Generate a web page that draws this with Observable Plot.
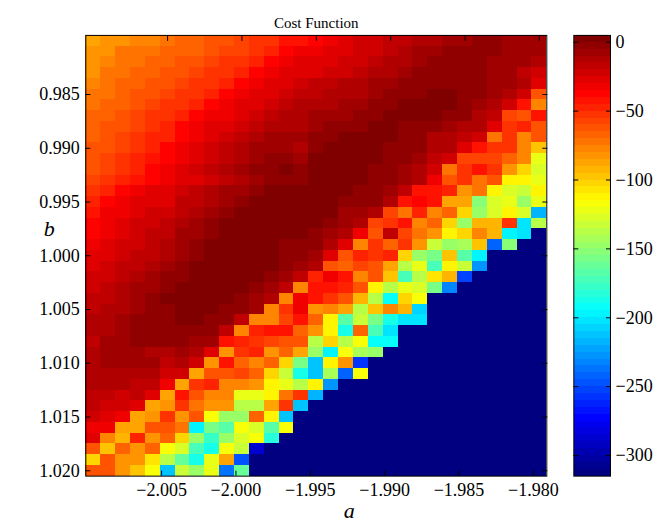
<!DOCTYPE html>
<html>
<head>
<meta charset="utf-8">
<script src="https://cdn.jsdelivr.net/npm/d3@7"></script>
<script src="https://cdn.jsdelivr.net/npm/@observablehq/plot@0.6"></script>
<style>
  html, body { margin: 0; padding: 0; background: #fff; }
  #chart { position: relative; width: 667px; height: 526px; overflow: hidden; }
  #chart svg {
    position: absolute; top: 0;
    font-family: "Liberation Serif", "Times New Roman", Times, serif;
    font-size: 18px;
    background: none;
    overflow: visible;
    color: #000;
  }
  #chart svg.heat { left: 0; }
  #chart svg.bar { left: 560px; }
</style>
</head>
<body>
<div id="chart"></div>
<script>
// Parameter grid: a along x, b along y
const aValues = [-2.010, -2.009, -2.008, -2.007, -2.006, -2.005, -2.004, -2.003, -2.002, -2.001,
  -2.000, -1.999, -1.998, -1.997, -1.996, -1.995, -1.994, -1.993, -1.992, -1.991,
  -1.990, -1.989, -1.988, -1.987, -1.986, -1.985, -1.984, -1.983, -1.982, -1.981, -1.980];
const bValues = [0.980, 0.981, 0.982, 0.983, 0.984, 0.985, 0.986, 0.987, 0.988, 0.989,
  0.990, 0.991, 0.992, 0.993, 0.994, 0.995, 0.996, 0.997, 0.998, 0.999,
  1.000, 1.001, 1.002, 1.003, 1.004, 1.005, 1.006, 1.007, 1.008, 1.009,
  1.010, 1.011, 1.012, 1.013, 1.014, 1.015, 1.016, 1.017, 1.018, 1.019, 1.020];

// Cost value for each (b row, a column)
const costRows = [
  [-86,-81,-81,-78,-78,-72,-70,-70,-65,-62,-60,-55,-51,-45,-45,-38,-33,-30,-25,-24,-20,-17,-15,-12,-10,-7,-5,-5,-7,-10,-10],
  [-83,-81,-75,-75,-75,-70,-70,-67,-62,-60,-56,-51,-46,-40,-35,-35,-30,-30,-25,-21,-17,-15,-10,-10,-5,-5,-4,-4,-6,-10,-10],
  [-81,-78,-75,-72,-70,-67,-65,-62,-56,-53,-51,-46,-40,-35,-30,-30,-30,-25,-21,-19,-15,-12,-7,-5,-5,-4,-4,-8,-10,-10,-15],
  [-81,-75,-75,-70,-67,-65,-62,-56,-55,-51,-46,-40,-35,-30,-30,-26,-23,-21,-19,-15,-12,-7,-5,-3,-3,-3,-5,-7,-10,-17,-24],
  [-78,-72,-70,-67,-65,-62,-56,-55,-51,-46,-40,-35,-30,-30,-24,-19,-19,-15,-15,-10,-7,-5,-3,-3,-3,-3,-5,-10,-10,-15,-30],
  [-75,-72,-70,-65,-62,-56,-55,-51,-46,-40,-35,-30,-30,-24,-19,-19,-15,-15,-12,-10,-5,-3,-3,0,0,-3,-5,-10,-15,-24,-65],
  [-72,-70,-67,-62,-56,-55,-51,-46,-40,-35,-30,-30,-24,-19,-15,-15,-15,-10,-10,-5,-3,0,0,0,0,-5,-10,-15,-24,-45,-78],
  [-70,-67,-65,-60,-55,-51,-46,-40,-35,-35,-30,-24,-19,-15,-12,-10,-10,-10,-5,-3,0,0,0,0,-5,-5,-15,-19,-60,-65,-45],
  [-70,-65,-62,-56,-51,-46,-40,-35,-30,-30,-24,-19,-15,-12,-14,-7,-5,-5,-5,0,0,-5,-5,-5,-10,-15,-15,-30,-55,-50,-65],
  [-67,-65,-60,-55,-50,-46,-40,-35,-30,-24,-19,-15,-10,-10,-10,-5,-5,0,0,0,0,-5,-5,-12,-12,-19,-24,-72,-55,-78,-65],
  [-65,-62,-56,-51,-46,-40,-35,-30,-24,-19,-15,-10,-10,-8,-11,-5,0,0,0,0,-5,-5,-5,-15,-15,-30,-45,-55,-55,-78,-100],
  [-65,-60,-55,-50,-45,-40,-35,-30,-24,-19,-15,-10,-5,-5,-10,0,0,0,0,0,-5,-5,-10,-19,-24,-60,-60,-60,-70,-78,-125],
  [-62,-56,-51,-46,-40,-35,-30,-24,-19,-15,-10,-5,-5,0,-5,0,0,0,0,-5,-5,-10,-15,-24,-72,-55,-42,-55,-85,-102,-127],
  [-60,-55,-50,-45,-38,-35,-30,-27,-24,-19,-15,-10,-5,-5,-5,0,0,0,0,-5,-5,-10,-15,-35,-65,-55,-72,-65,-112,-112,-125],
  [-55,-46,-40,-35,-30,-28,-24,-19,-15,-10,-6,-3,0,0,0,5,0,0,-5,-5,-10,-19,-45,-45,-50,-81,-72,-112,-130,-132,-112],
  [-50,-40,-35,-30,-30,-28,-19,-19,-12,-10,-5,0,0,5,5,5,0,-5,-5,-5,-15,-45,-40,-45,-87,-87,-155,-130,-125,-150,-121],
  [-45,-35,-35,-30,-24,-24,-19,-15,-10,-5,0,0,5,5,5,0,0,-10,-10,-15,-60,-72,-50,-78,-68,-102,-147,-130,-115,-127,-220],
  [-40,-35,-30,-24,-24,-19,-15,-10,-5,0,0,5,5,5,0,0,-5,-10,-15,-60,-55,-45,-78,-70,-102,-147,-95,-92,-55,-203,-140],
  [-40,-35,-30,-24,-19,-19,-10,-10,-5,0,5,5,5,0,0,-5,-10,-15,-35,-65,-20,-60,-72,-81,-112,-102,-78,-95,-198,-203,-315],
  [-35,-30,-24,-24,-19,-15,-10,-5,0,0,5,5,5,-5,-5,-5,-15,-30,-78,-55,-68,-55,-81,-132,-147,-145,-100,-245,-155,-315,-315],
  [-30,-30,-24,-19,-19,-15,-10,-5,0,5,5,5,0,-5,-5,-10,-30,-65,-50,-55,-50,-102,-150,-160,-97,-167,-198,-315,-315,-315,-315],
  [-30,-24,-19,-19,-15,-10,-5,0,5,5,5,0,0,-5,-10,-15,-65,-70,-60,-65,-87,-140,-121,-175,-115,-132,-230,-315,-315,-315,-315],
  [-24,-24,-19,-15,-10,-5,-5,0,5,5,0,0,-5,-10,-19,-50,-35,-45,-78,-65,-97,-175,-140,-107,-95,-255,-315,-315,-315,-315,-315],
  [-24,-19,-15,-10,-10,-5,0,5,5,0,0,-5,-10,-19,-78,-42,-45,-50,-65,-115,-140,-125,-127,-160,-235,-315,-315,-315,-315,-315,-315],
  [-19,-19,-15,-10,-5,0,0,0,0,0,-5,-10,-15,-78,-35,-45,-55,-65,-92,-140,-195,-102,-120,-315,-315,-315,-315,-315,-315,-315,-315],
  [-19,-15,-15,-10,-5,-5,0,0,0,-5,-5,-10,-78,-55,-35,-81,-78,-87,-140,-97,-78,-92,-210,-315,-315,-315,-315,-315,-315,-315,-315],
  [-15,-15,-10,-5,-5,-5,0,0,-5,-5,-19,-78,-78,-60,-45,-70,-112,-167,-132,-158,-188,-203,-203,-315,-315,-315,-315,-315,-315,-315,-315],
  [-15,-12,-8,-5,-3,-3,-3,-5,-5,-19,-78,-50,-42,-45,-70,-85,-112,-188,-70,-175,-203,-315,-315,-315,-315,-315,-315,-315,-315,-315,-315],
  [-17,-10,-10,-5,-5,-5,-5,-7,-10,-45,-50,-55,-60,-65,-65,-140,-102,-140,-120,-195,-195,-315,-315,-315,-315,-315,-315,-315,-315,-315,-315],
  [-15,-10,-10,-7,-12,-12,-10,-15,-30,-85,-55,-50,-81,-70,-90,-150,-200,-120,-145,-147,-315,-315,-315,-315,-315,-315,-315,-315,-315,-315,-315],
  [-15,-10,-10,-10,-10,-19,-12,-24,-85,-45,-70,-78,-70,-102,-160,-212,-115,-81,-260,-315,-315,-315,-315,-315,-315,-315,-315,-315,-315,-315,-315],
  [-15,-15,-12,-12,-12,-24,-24,-88,-65,-65,-60,-70,-102,-132,-190,-212,-145,-245,-120,-315,-315,-315,-315,-315,-315,-315,-315,-315,-315,-315,-315],
  [-15,-15,-15,-20,-20,-35,-90,-55,-50,-78,-78,-85,-115,-125,-140,-115,-230,-315,-315,-315,-315,-315,-315,-315,-315,-315,-315,-315,-315,-315,-315],
  [-20,-20,-24,-20,-30,-90,-45,-65,-78,-78,-125,-125,-115,-75,-55,-220,-315,-315,-315,-315,-315,-315,-315,-315,-315,-315,-315,-315,-315,-315,-315],
  [-19,-24,-24,-30,-90,-81,-55,-75,-81,-81,-136,-140,-90,-55,-215,-315,-315,-315,-315,-315,-315,-315,-315,-315,-315,-315,-315,-315,-315,-315,-315],
  [-24,-30,-35,-90,-81,-55,-81,-65,-120,-150,-150,-70,-115,-212,-315,-315,-315,-315,-315,-315,-315,-315,-315,-315,-315,-315,-315,-315,-315,-315,-315],
  [-35,-35,-90,-90,-65,-65,-75,-200,-160,-170,-120,-130,-170,-120,-315,-315,-315,-315,-315,-315,-315,-315,-315,-315,-315,-315,-315,-315,-315,-315,-315],
  [-30,-78,-95,-50,-81,-70,-102,-150,-180,-147,-130,-120,-185,-315,-315,-315,-315,-315,-315,-315,-315,-315,-315,-315,-315,-315,-315,-315,-315,-315,-315],
  [-65,-100,-70,-85,-70,-120,-130,-175,-190,-120,-135,-290,-315,-315,-315,-315,-315,-315,-315,-315,-315,-315,-315,-315,-315,-315,-315,-315,-315,-315,-315],
  [-105,-65,-85,-85,-107,-140,-165,-190,-125,-90,-250,-315,-315,-315,-315,-315,-315,-315,-315,-315,-315,-315,-315,-315,-315,-315,-315,-315,-315,-315,-315],
  [-65,-65,-85,-100,-120,-212,-135,-147,-125,-240,-165,-315,-315,-315,-315,-315,-315,-315,-315,-315,-315,-315,-315,-315,-315,-315,-315,-315,-315,-315,-315]
];

// Tick values
const xTicks = [-2.005, -2.000, -1.995, -1.990, -1.985, -1.980];
const yTicks = [0.985, 0.990, 0.995, 1.000, 1.005, 1.010, 1.015, 1.020];
const colorTicks = [0, -50, -100, -150, -200, -250, -300];

// 64-level jet colormap
const LEVELS = 64;
function jet(t) {
  const c = v => Math.max(0, Math.min(1, v));
  const r = c(Math.min(4 * t - 1.5, -4 * t + 4.5));
  const g = c(Math.min(4 * t - 0.5, -4 * t + 3.5));
  const b = c(Math.min(4 * t + 0.5, -4 * t + 2.5));
  return `rgb(${Math.round(r * 255)},${Math.round(g * 255)},${Math.round(b * 255)})`;
}
const jet64 = t => jet(Math.min(LEVELS - 1, Math.max(0, Math.floor(t * LEVELS))) / (LEVELS - 1));

const cells = bValues.flatMap((b, j) => aValues.map((a, i) => ({a, b, cost: costRows[j][i]})));
const costExtent = d3.extent(cells, d => d.cost);
const colorScale = {type: "linear", domain: costExtent, interpolate: jet64};

const ha = (aValues[1] - aValues[0]) / 2;
const hb = (bValues[1] - bValues[0]) / 2;

const W = 667, H = 526;
const mTop = 34.9, mBottom = 50.35;

const heat = Plot.plot({
  width: 560, height: H,
  marginLeft: 85.3, marginRight: 13.7, marginTop: mTop, marginBottom: mBottom,
  x: {domain: [aValues[0] - ha, aValues[aValues.length - 1] + ha]},
  y: {domain: [bValues[0] - hb, bValues[bValues.length - 1] + hb], reverse: true},
  color: colorScale,
  marks: [
    Plot.rect(cells, {
      x1: d => d.a - ha, x2: d => d.a + ha,
      y1: d => d.b - hb, y2: d => d.b + hb,
      fill: "cost", shapeRendering: "crispEdges"
    }),
    Plot.frame({stroke: "#000", strokeWidth: 1}),
    Plot.axisX(xTicks, {anchor: "bottom", tickSize: -5, tickPadding: 12, dx: -6, tickFormat: d3.format(".3f"), label: null}),
    Plot.axisX(xTicks, {anchor: "top", tickSize: -5, tickFormat: () => "", label: null}),
    Plot.axisY(yTicks, {anchor: "left", tickSize: -5, tickPadding: 11, tickFormat: d3.format(".3f"), label: null}),
    Plot.axisY(yTicks, {anchor: "right", tickSize: -5, tickFormat: () => "", label: null}),
    Plot.text(["Cost Function"], {frameAnchor: "top", dy: -18, fontSize: 15}),
    Plot.text(["a"], {frameAnchor: "bottom", dx: 33, dy: 42, fontStyle: "italic", fontSize: 22}),
    Plot.text(["b"], {frameAnchor: "left", dx: -42, dy: -27, fontStyle: "italic", fontSize: 22})
  ]
});
heat.classList.add("heat");

// Vertical colorbar sharing the same color scale
const [cmin, cmax] = costExtent;
const bands = d3.range(LEVELS).map(k => ({
  lo: cmin + k * (cmax - cmin) / LEVELS,
  hi: cmin + (k + 1) * (cmax - cmin) / LEVELS
}));

const bar = Plot.plot({
  width: W - 560, height: H,
  marginLeft: 13.3, marginRight: 57, marginTop: mTop, marginBottom: mBottom,
  x: {axis: null, padding: 0},
  y: {domain: [cmin, cmax]},
  color: colorScale,
  marks: [
    Plot.barY(bands, {x: () => "cost", y1: "lo", y2: "hi", fill: d => (d.lo + d.hi) / 2, inset: 0, shapeRendering: "crispEdges"}),
    Plot.frame({stroke: "#000", strokeWidth: 1}),
    Plot.axisY(colorTicks, {anchor: "right", tickSize: -5, tickPadding: 10, label: null}),
    Plot.axisY(colorTicks, {anchor: "left", tickSize: -5, tickFormat: () => "", label: null})
  ]
});
bar.classList.add("bar");

document.getElementById("chart").append(heat, bar);
</script>
</body>
</html>
